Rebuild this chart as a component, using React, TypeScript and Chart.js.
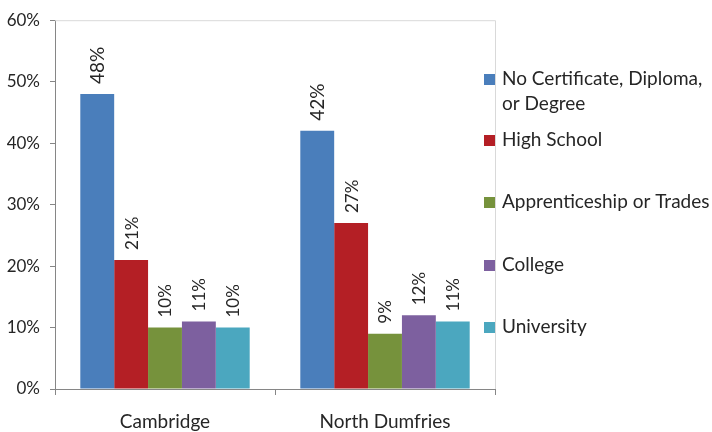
import React, { useEffect, useRef } from "react";
import { Chart, registerables } from "chart.js";

Chart.register(...registerables);

const categories = ["Cambridge", "North Dumfries"];
const seriesNames: (string | string[])[] = [
  ["No Certificate, Diploma,", "or Degree"],
  "High School",
  "Apprenticeship or Trades",
  "College",
  "University",
];
const noCertificate = [48, 42];
const highSchool = [21, 27];
const apprenticeship = [10, 9];
const college = [11, 12];
const university = [10, 11];
const yTicks = [0, 10, 20, 30, 40, 50, 60];

const colors = ["#4a7ebb", "#b41f25", "#76923c", "#7d609f", "#4ba7bf"];
const FONT = "Lato, 'Open Sans', sans-serif";
const TEXT = "#262626";
const AXIS = "#868686";

const labelPlugin = {
  id: "barLabels",
  afterDatasetsDraw(chart: any) {
    const ctx = chart.ctx;
    chart.data.datasets.forEach((ds: any, di: number) => {
      const meta = chart.getDatasetMeta(di);
      meta.data.forEach((el: any, i: number) => {
        const v = ds.data[i];
        ctx.save();
        ctx.translate(el.x + 1, el.y - 10);
        ctx.rotate(-Math.PI / 2);
        ctx.font = `${di === 0 ? 19 : 17}px ${FONT}`;
        ctx.fillStyle = TEXT;
        ctx.textAlign = "left";
        ctx.textBaseline = "middle";
        ctx.fillText(`${v}%`, 0, 0);
        ctx.restore();
      });
    });
  },
};

const framePlugin = {
  id: "frame",
  beforeDatasetsDraw(chart: any) {
    const { ctx, chartArea } = chart;
    ctx.save();
    ctx.strokeStyle = "#d9d9d9";
    ctx.lineWidth = 1;
    ctx.beginPath();
    ctx.moveTo(chartArea.left, chartArea.top + 0.5);
    ctx.lineTo(chartArea.right + 0.5, chartArea.top + 0.5);
    ctx.lineTo(chartArea.right + 0.5, chartArea.bottom);
    ctx.stroke();
    ctx.restore();
  },
};

const legendPlugin = {
  id: "customLegend",
  afterDraw(chart: any) {
    const ctx = chart.ctx;
    const x0 = chart.chartArea.right - 11;
    const firstY = 79;
    const lineH = 25;
    const firstOther = 140;
    const step = 62.3;
    ctx.save();
    ctx.font = `19px ${FONT}`;
    ctx.fillStyle = TEXT;
    ctx.textBaseline = "middle";
    chart.data.datasets.forEach((ds: any, i: number) => {
      const lines = Array.isArray(ds.label) ? ds.label : [ds.label];
      const y = i === 0 ? firstY : firstOther + step * (i - 1);
      ctx.fillStyle = ds.backgroundColor;
      ctx.fillRect(x0, Math.round(y - 5), 11, 11);
      ctx.fillStyle = TEXT;
      lines.forEach((ln: string, li: number) => {
        ctx.fillText(ln, x0 + 18, y + li * lineH);
      });
    });
    ctx.restore();
  },
};

export default function App() {
  const ref = useRef<HTMLCanvasElement>(null);
  useEffect(() => {
    if (!ref.current) return;
    const seriesData = [noCertificate, highSchool, apprenticeship, college, university];
    const chart = new Chart(ref.current, {
      type: "bar",
      data: {
        labels: categories,
        datasets: seriesData.map((d, i) => ({
          label: seriesNames[i] as any,
          data: d,
          backgroundColor: colors[i],
          borderWidth: 0,
          categoryPercentage: 0.77,
          barPercentage: 1.0,
        })),
      },
      options: {
        responsive: false,
        animation: false,
        layout: { padding: { top: 18, right: 217, left: 0, bottom: 0 } },
        plugins: {
          legend: { display: false },
          tooltip: { enabled: false },
          title: { display: false },
        },
        scales: {
          x: {
            grid: {
              display: true,
              drawOnChartArea: false,
              drawTicks: true,
              tickLength: 6,
              color: AXIS,
              offset: true,
            },
            border: { display: true, color: AXIS },
            ticks: { font: { family: FONT, size: 19 }, color: TEXT, padding: 15 },
            afterFit: (s: any) => {
              s.height = 43;
            },
          },
          y: {
            min: 0,
            max: 60,
            afterBuildTicks: (s: any) => {
              s.ticks = yTicks.map((v) => ({ value: v }));
            },
            ticks: {
              callback: (v: any) => `${v}%`,
              font: { family: FONT, size: 17 },
              color: TEXT,
              padding: 10,
            },
            grid: {
              display: true,
              drawOnChartArea: false,
              drawTicks: true,
              tickLength: 5,
              color: AXIS,
            },
            border: { display: true, color: AXIS },
            afterFit: (s: any) => {
              s.width = 55;
            },
          },
        },
      },
      plugins: [framePlugin, labelPlugin, legendPlugin],
    });
    return () => chart.destroy();
  }, []);
  return (
    <div style={{ position: "absolute", left: 0, top: 0, width: 712, height: 432, background: "#fff" }}>
      <canvas ref={ref} width={712} height={432} />
    </div>
  );
}
